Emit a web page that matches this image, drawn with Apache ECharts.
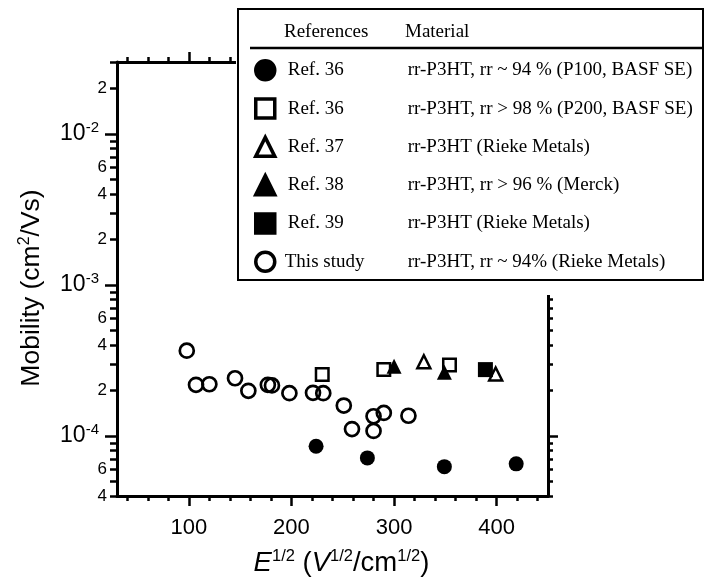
<!DOCTYPE html>
<html><head><meta charset="utf-8">
<script src="https://cdn.jsdelivr.net/npm/echarts@6/dist/echarts.min.js"></script>
<style>html,body{margin:0;padding:0;background:#fff}#c{width:705px;height:583px}</style>
</head><body><div id="c"></div>
<script>
// ---- data ----
const seriesKeys = ['p100', 'p200', 'r37', 'r38', 'r39', 'study'];
const refLabels = ['Ref. 36', 'Ref. 36', 'Ref. 37', 'Ref. 38', 'Ref. 39', 'This study'];
const materials = [
  'rr-P3HT, rr ~ 94 % (P100, BASF SE)',
  'rr-P3HT, rr > 98 % (P200, BASF SE)',
  'rr-P3HT (Rieke Metals)',
  'rr-P3HT, rr > 96 % (Merck)',
  'rr-P3HT (Rieke Metals)',
  'rr-P3HT, rr ~ 94% (Rieke Metals)'
];
const p100X = [224, 274, 349, 419];
const p100Y = [8.55e-5, 7.15e-5, 6.26e-5, 6.53e-5];
const p200X = [230, 290, 354];
const p200Y = [2.55e-4, 2.75e-4, 2.95e-4];
const ref37X = [329, 399];
const ref37Y = [3.1e-4, 2.57e-4];
const ref38X = [300, 349];
const ref38Y = [2.89e-4, 2.64e-4];
const ref39X = [389];
const ref39Y = [2.75e-4];
const studyX = [98, 107, 120, 145, 158, 177, 181, 198, 221, 231, 251, 259, 280, 280, 290, 314];
const studyY = [3.67e-4, 2.18e-4, 2.2e-4, 2.41e-4, 1.99e-4, 2.18e-4, 2.16e-4, 1.92e-4, 1.93e-4, 1.92e-4, 1.59e-4, 1.11e-4, 1.08e-4, 1.35e-4, 1.42e-4, 1.36e-4];
const xMajorTicks = [100, 200, 300, 400];
const xMinorTicks = [40, 60, 80, 120, 140, 160, 180, 220, 240, 260, 280, 320, 340, 360, 380, 420, 440];
const yMajorTicks = [1e-4, 1e-3, 1e-2];
const yMinorLabels = [4e-5, 6e-5, 2e-4, 4e-4, 6e-4, 2e-3, 4e-3, 6e-3, 2e-2];
const xMin = 30, xMax = 450, yMin = 4e-5, yMax = 3e-2;

// minor ticks of log axis: 2..9 x 10^d
const yMinorTicks = [];
for (let d = -5; d <= -2; d++) for (let m = 2; m <= 9; m++) {
  const v = parseFloat(m + 'e' + d);
  if (v >= yMin && v <= yMax) yMinorTicks.push(v);
}

const zip = (xs, ys) => xs.map((x, i) => [x, ys[i]]);
const SANS = 'Liberation Sans';
const SERIF = 'Liberation Serif';
const LW = 3;
const line = { show: true, lineStyle: { color: '#000', width: LW } };
const noLine = { show: false };

const chart = echarts.init(document.getElementById('c'), null, { renderer: 'canvas' });
const gridPos = { left: 117, right: 157, top: 62, bottom: 87, containLabel: false, outerBoundsMode: 'none' };

function xAx(grid, pos, ticks, len, labels, extra) {
  return Object.assign({
    type: 'value', gridIndex: grid, position: pos, min: xMin, max: xMax,
    axisLine: grid === 0 ? line : noLine,
    axisTick: { show: true, inside: false, length: len, customValues: ticks, lineStyle: { color: '#000', width: 2.5 } },
    axisLabel: labels ? { show: true, customValues: labels, fontSize: 22, fontFamily: SANS, color: '#000', margin: 21 } : { show: false },
    splitLine: { show: false }
  }, extra || {});
}
function yAx(grid, pos, ticks, len, labels, extra) {
  return Object.assign({
    type: 'log', logBase: 10, gridIndex: grid, position: pos, min: yMin, max: yMax,
    axisLine: grid === 0 ? line : noLine,
    axisTick: { show: true, inside: false, length: len, customValues: ticks, lineStyle: { color: '#000', width: 2.5 } },
    axisLabel: labels ? labels : { show: false },
    splitLine: { show: false }
  }, extra || {});
}

const sym = (key, symbol, size, filled, bw) => ({
  name: key, type: 'scatter', xAxisIndex: 0, yAxisIndex: 0, symbol: symbol, symbolSize: size,
  itemStyle: filled ? { color: '#000', borderColor: '#000', borderWidth: 0, opacity: 1 }
                    : { color: 'rgba(255,255,255,0)', borderColor: '#000', borderWidth: bw, opacity: 1 },
  emphasis: { disabled: true }, z: 3
});

const option = {
  animation: false,
  backgroundColor: '#fff',
  grid: [Object.assign({}, gridPos), Object.assign({}, gridPos)],
  xAxis: [
    xAx(0, 'bottom', xMajorTicks, 10, xMajorTicks, {
      name: '{i|E}{s|1/2}{n| (}{i|V}{s|1/2}{n|/cm}{s|1/2}{n|)}',
      nameLocation: 'middle', nameGap: 52,
      nameTextStyle: {
        padding: [0, 0, 0, 18],
        rich: {
          i: { fontSize: 27.5, fontStyle: 'italic', fontFamily: SANS, color: '#000' },
          n: { fontSize: 27.5, fontFamily: SANS, color: '#000' },
          s: { fontSize: 16.5, fontFamily: SANS, color: '#000', verticalAlign: 'top', lineHeight: 30 }
        }
      }
    }),
    xAx(0, 'top', xMajorTicks, 10, null),
    xAx(1, 'bottom', xMinorTicks, 5, null),
    xAx(1, 'top', xMinorTicks, 5, null)
  ],
  yAxis: [
    yAx(0, 'left', yMajorTicks, 12, {
      show: true, customValues: yMajorTicks, margin: 18,
      formatter: v => '{b|10}{s|' + Math.round(Math.log10(v)) + '}',
      rich: {
        b: { fontSize: 23, fontFamily: SANS, color: '#000' },
        s: { fontSize: 15, fontFamily: SANS, color: '#000', verticalAlign: 'top', lineHeight: 28 }
      }
    }, {
      name: '{n|Mobility (cm}{s|2}{n|/Vs)}',
      nameLocation: 'middle', nameGap: 70, nameRotate: 90,
      nameTextStyle: {
        padding: [0, 18, 0, 0],
        rich: {
          n: { fontSize: 26.5, fontFamily: SANS, color: '#000' },
          s: { fontSize: 16, fontFamily: SANS, color: '#000', verticalAlign: 'top', lineHeight: 30 }
        }
      }
    }),
    yAx(0, 'right', yMajorTicks, 10, null),
    yAx(1, 'left', yMinorTicks, 7, {
      show: true, customValues: yMinorLabels, margin: 10, fontSize: 17, fontFamily: SANS, color: '#000',
      formatter: v => String(Math.round(v / Math.pow(10, Math.floor(Math.log10(v) + 1e-9))))
    }),
    yAx(1, 'right', yMinorTicks, 5, null)
  ],
  legend: {
    show: true, orient: 'vertical', left: 254, top: 59, padding: 0,
    itemWidth: 19, itemHeight: 19, itemGap: 15.8, selectedMode: false, z: 60,
    itemStyle: { borderWidth: 3.5, borderColor: '#000' },
    data: seriesKeys,
    formatter: name => {
      const i = seriesKeys.indexOf(name);
      return '{' + (i === 5 ? 'c' : 'a') + '|' + refLabels[i] + '}{b|' + materials[i] + '}';
    },
    textStyle: {
      fontFamily: SERIF, fontSize: 19, color: '#000',
      rich: {
        a: { fontFamily: SERIF, fontSize: 19, color: '#000', width: 120, padding: [0, 0, 0, 8] },
        c: { fontFamily: SERIF, fontSize: 19, color: '#000', width: 123, padding: [0, 0, 0, 5] },
        b: { fontFamily: SERIF, fontSize: 19, color: '#000' }
      }
    }
  },
  graphic: [
    { type: 'rect', z: 49, shape: { x: 236, y: 9, width: 469, height: 286 },
      style: { fill: '#fff', lineWidth: 0 } },
    { type: 'rect', z: 50, shape: { x: 238, y: 9, width: 465, height: 271 },
      style: { fill: '#fff', stroke: '#000', lineWidth: 2 } },
    { type: 'text', z: 51, x: 284, y: 32,
      style: { text: 'References', fontFamily: SERIF, fontSize: 19, fill: '#000', verticalAlign: 'middle' } },
    { type: 'text', z: 51, x: 405, y: 32,
      style: { text: 'Material', fontFamily: SERIF, fontSize: 19, fill: '#000', verticalAlign: 'middle' } },
    { type: 'line', z: 51, shape: { x1: 250, y1: 48, x2: 703, y2: 48 },
      style: { stroke: '#000', lineWidth: 2.5 } }
  ],
  series: [
    Object.assign(sym('p100', 'circle', 15, true), { data: zip(p100X, p100Y) }),
    Object.assign(sym('p200', 'rect', 12.5, false, 2.5), { data: zip(p200X, p200Y) }),
    Object.assign(sym('r37', 'triangle', 13, false, 2.5), { data: zip(ref37X, ref37Y) }),
    Object.assign(sym('r38', 'triangle', 15, true), { data: zip(ref38X, ref38Y) }),
    Object.assign(sym('r39', 'rect', 15, true), { data: zip(ref39X, ref39Y) }),
    Object.assign(sym('study', 'circle', 14, false, 2.7), { data: zip(studyX, studyY) })
  ]
};
chart.setOption(option);
</script>
</body></html>
